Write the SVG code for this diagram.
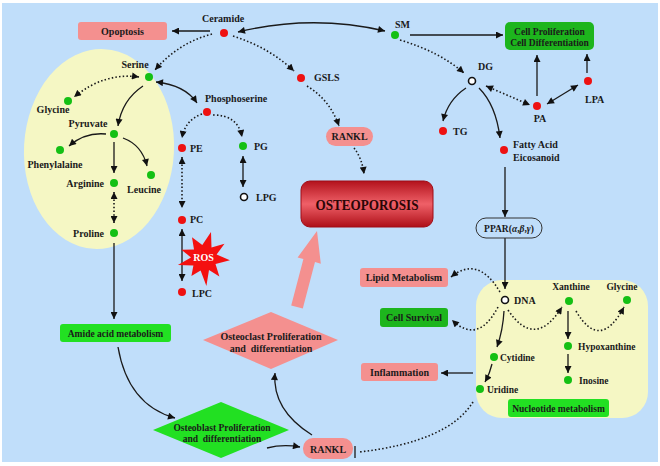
<svg xmlns="http://www.w3.org/2000/svg" width="660" height="466" viewBox="0 0 660 466">
<style>
text{font-family:"Liberation Serif","Times New Roman",serif;font-weight:bold;fill:#1a1a1a;font-size:10px}
.c{text-anchor:middle}
.e{text-anchor:end}
.sm{font-size:9.5px}
.s{fill:none;stroke:#1a1a1a;stroke-width:1.3}
.d{fill:none;stroke:#1a1a1a;stroke-width:1.6;stroke-dasharray:1.5 2.2}
.r{fill:#ee1111}
.g{fill:#14c014}
.o{fill:#fff;stroke:#111;stroke-width:1.6}
.pk{fill:#f4908f}
.dg{fill:#1db51d}
.bg{fill:#22e022}
</style>
<defs>
<marker id="ah" viewBox="0 0 10 10" refX="10" refY="5" markerWidth="8" markerHeight="7" markerUnits="userSpaceOnUse" orient="auto-start-reverse"><path d="M0,0 L10,5 L0,10 z" fill="#111"/></marker>
<linearGradient id="og" x1="0" y1="0" x2="0" y2="1">
<stop offset="0" stop-color="#b3121c"/>
<stop offset="0.5" stop-color="#ef6068"/>
<stop offset="1" stop-color="#ae0f18"/>
</linearGradient>
</defs>
<rect x="0" y="0" width="660" height="466" fill="#fff"/>
<rect x="2" y="3" width="656" height="459" fill="#c0defa"/>
<ellipse cx="99" cy="149" rx="75" ry="100" fill="#f5f7c4" transform="rotate(3 99 149)"/>
<rect x="476" y="280" width="172" height="138" rx="26" fill="#f5f7c4"/>

<g id="connectors">
<path class="s" d="M210,31 L172,31" marker-end="url(#ah)"/>
<path class="s" d="M238,32 Q312,14 385,31" marker-start="url(#ah)" marker-end="url(#ah)"/>
<path class="s" d="M410,35 L503,35" marker-end="url(#ah)"/>
<path class="d" d="M400,40 Q440,52 464,73" marker-end="url(#ah)"/>
<path class="s" d="M466,88 Q448,100 443,121" marker-end="url(#ah)"/>
<path class="s" d="M479,88 Q496,105 500,138" marker-end="url(#ah)"/>
<path class="d" d="M486,86 L530,105" marker-start="url(#ah)" marker-end="url(#ah)"/>
<path class="s" d="M537,96 L537,55" marker-end="url(#ah)"/>
<path class="s" d="M547,104 L578,85" marker-start="url(#ah)" marker-end="url(#ah)"/>
<path class="s" d="M587,73 L587,54" marker-end="url(#ah)"/>
<path class="s" d="M505,167 L505,217" marker-end="url(#ah)"/>
<path class="s" d="M505,238 L505,289" marker-end="url(#ah)"/>
<path class="d" d="M500,292 Q478,255 451,277" marker-end="url(#ah)"/>
<path class="d" d="M498,307 Q478,345 452,320" marker-end="url(#ah)"/>
<path class="d" d="M508,310 Q535,350 562,307" marker-end="url(#ah)"/>
<path class="d" d="M576,311 Q600,352 624,307" marker-end="url(#ah)"/>
<path class="s" d="M568,311 L568,339" marker-end="url(#ah)"/>
<path class="s" d="M568,354 L568,373" marker-end="url(#ah)"/>
<path class="s" d="M504,311 Q503,330 497,347" marker-end="url(#ah)"/>
<path class="s" d="M492,364 Q490,373 485,382" marker-end="url(#ah)"/>
<path class="s" d="M473,373 L441,373" marker-end="url(#ah)"/>
<path class="d" d="M473,402 Q448,442 359,452"/>
<path class="s" d="M355,446 L355,458"/>
<path class="s" d="M267,448 Q283,444 300,447" marker-end="url(#ah)"/>
<path class="s" d="M312,435 Q272,410 275,373" marker-end="url(#ah)"/>
<path class="s" d="M118,347 Q128,405 175,418" marker-end="url(#ah)"/>
<path class="s" d="M114,243 L114,319" marker-end="url(#ah)"/>
<path class="d" d="M212,34 Q178,43 155,70" marker-end="url(#ah)"/>
<path class="d" d="M139,77 Q105,72 74,97" marker-start="url(#ah)" marker-end="url(#ah)"/>
<path class="s" d="M143,86 Q122,100 118,126" marker-end="url(#ah)"/>
<path class="s" d="M156,82 Q185,85 197,103" marker-start="url(#ah)" marker-end="url(#ah)"/>
<path class="d" d="M202,114 Q185,120 182,138" marker-end="url(#ah)"/>
<path class="d" d="M213,115 Q238,115 242,137" marker-end="url(#ah)"/>
<path class="s" d="M243,156 L243,187" marker-start="url(#ah)" marker-end="url(#ah)"/>
<path class="d" d="M182,157 L182,208" marker-start="url(#ah)" marker-end="url(#ah)"/>
<path class="s" d="M182,229 L182,281" marker-start="url(#ah)" marker-end="url(#ah)"/>
<path class="d" d="M233,36 Q270,48 294,71" marker-end="url(#ah)"/>
<path class="d" d="M307,86 Q330,100 339,126" marker-end="url(#ah)"/>
<path class="d" d="M354,148 Q362,158 364,174" marker-end="url(#ah)"/>
<path class="s" d="M106,134 Q85,132 69,146" marker-end="url(#ah)"/>
<path class="s" d="M114,142 L114,173" marker-end="url(#ah)"/>
<path class="s" d="M123,138 Q142,145 147,166" marker-end="url(#ah)"/>
<path class="d" d="M114,192 L114,223" marker-start="url(#ah)" marker-end="url(#ah)"/>
<polygon class="pk" points="291.2,305.5 303.4,259.1 297.6,257.5 317,231 320.8,263.7 315,262.1 302.8,308.5"/>
</g>

<g id="opoptosis"><rect class="pk" x="78" y="22" width="89" height="18" rx="3"/><text class="c" x="122.5" y="34.5">Opoptosis</text></g>
<g id="ceramide"><circle class="r" cx="224" cy="33" r="4"/><text x="202" y="22">Ceramide</text></g>
<g id="sm"><circle class="g" cx="395" cy="35" r="4"/><text x="395" y="28">SM</text></g>
<g id="cellprolif"><rect class="dg" x="505" y="22" width="89" height="28" rx="5"/><text class="c sm" x="549.5" y="34.5">Cell Proliferation</text><text class="c sm" x="549.5" y="45.5">Cell Differentiation</text></g>
<g id="dg"><circle class="o" cx="472" cy="81" r="3.5"/><text x="478" y="70">DG</text></g>
<g id="tg"><circle class="r" cx="443" cy="131" r="4"/><text x="453" y="135">TG</text></g>
<g id="fattyacid"><circle class="r" cx="504" cy="150" r="4"/><text x="513" y="148">Fatty Acid</text><text x="513" y="161">Eicosanoid</text></g>
<g id="pa"><circle class="r" cx="537" cy="106" r="4"/><text class="c" x="540" y="122">PA</text></g>
<g id="lpa"><circle class="r" cx="588" cy="81" r="4"/><text x="585" y="103">LPA</text></g>
<g id="ppar"><rect x="476" y="218" width="66" height="20" rx="10" fill="#c0defa" stroke="#333" stroke-width="1"/><text class="c sm" x="509" y="231.5">PPAR(<tspan font-style="italic">α</tspan>,<tspan font-style="italic">β</tspan>,<tspan font-style="italic">γ</tspan>)</text></g>
<g id="dna"><circle class="o" cx="505" cy="300" r="3.5"/><text x="514" y="304">DNA</text></g>
<g id="xanthine"><circle class="g" cx="569" cy="301" r="4"/><text class="c sm" x="571" y="290">Xanthine</text></g>
<g id="glycine2"><circle class="g" cx="627" cy="300" r="4"/><text class="c sm" x="622" y="290">Glycine</text></g>
<g id="hypoxanthine"><circle class="g" cx="568" cy="346" r="4"/><text class="sm" x="578" y="350">Hypoxanthine</text></g>
<g id="inosine"><circle class="g" cx="568" cy="380" r="4"/><text class="sm" x="579" y="384">Inosine</text></g>
<g id="cytidine"><circle class="g" cx="494" cy="357" r="4"/><text class="sm" x="500" y="361">Cytidine</text></g>
<g id="uridine"><circle class="g" cx="480" cy="389" r="4"/><text class="sm" x="487" y="393">Uridine</text></g>
<g id="nucleotide"><rect class="bg" x="508" y="399" width="101" height="18" rx="3"/><text class="c sm" x="558.5" y="411.5">Nucleotide metabolism</text></g>
<g id="lipidmet"><rect class="pk" x="360" y="268" width="88" height="19" rx="3"/><text class="c" x="404" y="281">Lipid Metabolism</text></g>
<g id="cellsurvival"><rect class="dg" x="380" y="308" width="68" height="19" rx="3"/><text class="c" x="414" y="321">Cell Survival</text></g>
<g id="inflammation"><rect class="pk" x="361" y="363" width="77" height="18" rx="3"/><text class="c" x="399.5" y="375.5">Inflammation</text></g>
<g id="rankl2"><rect class="pk" x="303" y="438" width="50" height="21" rx="10"/><text class="c" x="328" y="452.5">RANKL</text></g>
<g id="osteoblast"><polygon class="bg" points="153,430 221,402 289,430 221,458"/><text class="c sm" x="222" y="430.5">Osteoblast Proliferation</text><text class="c sm" x="222" y="441.5" xml:space="preserve">and  differentiation</text></g>
<g id="osteoclast"><polygon class="pk" points="203,340 271,312 338,340 271,369"/><text class="c" x="271" y="339.5">Osteoclast Proliferation</text><text class="c" x="271" y="351.5" xml:space="preserve">and  differentiation</text></g>
<g id="osteoporosis"><rect x="301" y="181" width="132" height="46" rx="9" fill="url(#og)" stroke="#a00d16" stroke-width="1"/><text class="c" x="367" y="210" style="font-size:15px;fill:#2a0606" textLength="103" lengthAdjust="spacingAndGlyphs">OSTEOPOROSIS</text></g>
<g id="rankl1"><rect class="pk" x="326" y="127" width="47" height="19" rx="9.5"/><text class="c" x="349.5" y="140">RANKL</text></g>
<g id="gsls"><circle class="r" cx="301" cy="78" r="4"/><text x="314" y="81">GSLS</text></g>
<g id="serine"><circle class="g" cx="149" cy="77" r="4"/><text class="c" x="135" y="68">Serine</text></g>
<g id="glycine1"><circle class="g" cx="68" cy="101" r="4"/><text class="c" x="53" y="113">Glycine</text></g>
<g id="phosphoserine"><circle class="r" cx="207" cy="112" r="4"/><text x="205" y="102">Phosphoserine</text></g>
<g id="pe"><circle class="r" cx="182" cy="148" r="4"/><text x="190" y="152">PE</text></g>
<g id="pg"><circle class="g" cx="243" cy="146" r="4"/><text x="254" y="150">PG</text></g>
<g id="lpg"><circle class="o" cx="244" cy="197" r="3.5"/><text x="256" y="201">LPG</text></g>
<g id="pc"><circle class="r" cx="182" cy="220" r="4"/><text x="190" y="223">PC</text></g>
<g id="lpc"><circle class="r" cx="182" cy="292" r="4"/><text x="192" y="297">LPC</text></g>
<g id="ros"><polygon fill="#f41010" points="211,231.9 211.5,247.4 224.5,243.7 216.6,254.6 229.9,260.3 215.5,264 219.4,276.4 209,270 206.4,285.9 200.6,270.6 191.4,276 193.4,265.5 177.9,265 191,257.4 181.4,249.8 194,249.6 192,237.2 202.3,245.1"/><text class="c" x="203.5" y="261" style="fill:#fff">ROS</text></g>
<g id="pyruvate"><circle class="g" cx="114" cy="134" r="4"/><text class="c" x="88" y="127">Pyruvate</text></g>
<g id="phenylalaine"><circle class="g" cx="60" cy="150" r="4"/><text class="c" x="55" y="168">Phenylalaine</text></g>
<g id="arginine"><circle class="g" cx="114" cy="183" r="4"/><text class="e" x="104" y="187">Arginine</text></g>
<g id="leucine"><circle class="g" cx="151" cy="175" r="4"/><text class="c" x="144" y="193">Leucine</text></g>
<g id="proline"><circle class="g" cx="114" cy="233" r="4"/><text class="e" x="104" y="237">Proline</text></g>
<g id="amide"><rect class="bg" x="60" y="324" width="111" height="18" rx="3"/><text class="c sm" x="115.5" y="336.5">Amide acid metabolism</text></g>
</svg>
